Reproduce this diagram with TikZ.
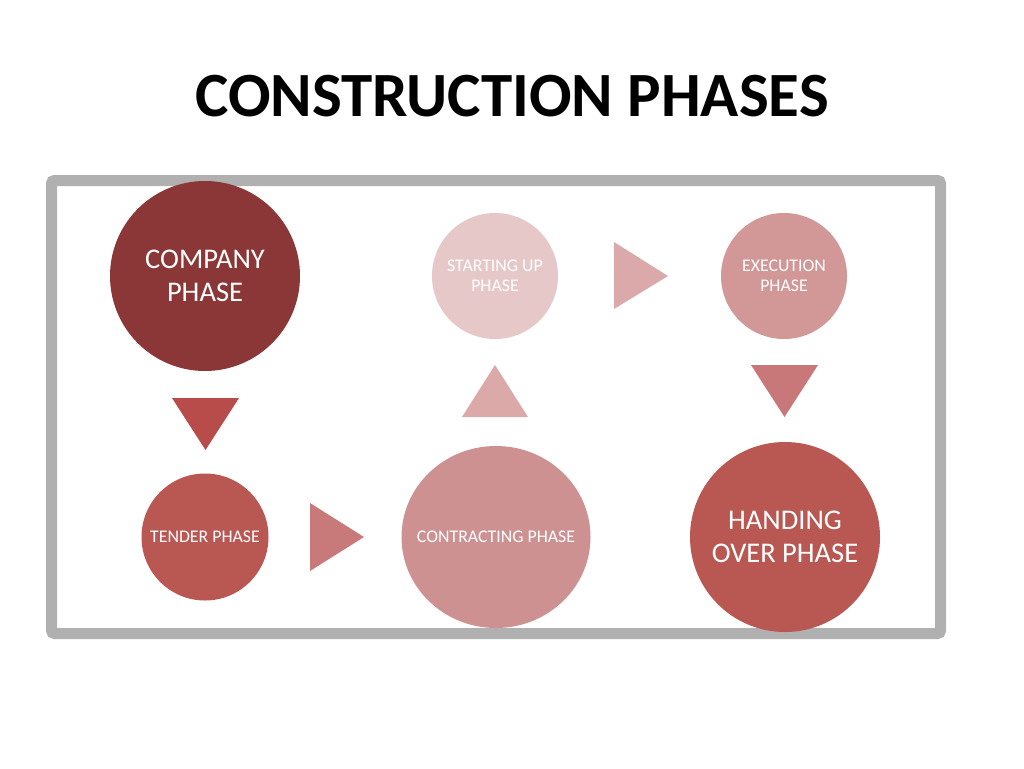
\documentclass[tikz,border=0pt]{standalone}
\usepackage{fontspec}
\setmainfont{Carlito}
\usetikzlibrary{shapes.geometric}
\definecolor{cCompany}{HTML}{8B3737}
\definecolor{cStart}{HTML}{E6C8C9}
\definecolor{cExec}{HTML}{D29797}
\definecolor{cTender}{HTML}{B95753}
\definecolor{cContract}{HTML}{CD9192}
\definecolor{cHand}{HTML}{B95753}
\definecolor{tOne}{HTML}{B74C4A}
\definecolor{tTwo}{HTML}{C87A7A}
\definecolor{tThree}{HTML}{DCA9A9}
\definecolor{tFour}{HTML}{DBA9AA}
\definecolor{tFive}{HTML}{C87878}
\definecolor{frameGray}{HTML}{B0B0B0}
\tikzset{
  phase/.style={circle, inner sep=0pt, text=white, align=center},
  bigtext/.style={font=\fontsize{28.5}{33}\selectfont},
  smalltext/.style={font=\fontsize{17.8}{20}\selectfont}
}
\begin{document}
\begin{tikzpicture}[x=1pt,y=-1pt]
\useasboundingbox (0,0) rectangle (1024,768);
\fill[white] (0,0) rectangle (1024,768);
\node[font=\fontsize{63}{70}\selectfont\bfseries] (title) at (512,96) {CONSTRUCTION PHASES};
\draw[frameGray, line width=11pt, rounded corners=3pt] (51.5,180.5) rectangle (940.5,633.5);
\node[phase, bigtext, fill=cCompany, minimum size=190pt] (company) at (205,276) {COMPANY\\PHASE};
\node[phase, smalltext, fill=cStart, minimum size=126pt] (start) at (495,276) {STARTING UP\\PHASE};
\node[phase, smalltext, fill=cExec, minimum size=126pt] (exec) at (784,276) {EXECUTION\\PHASE};
\node[phase, smalltext, fill=cTender, minimum size=127pt] (tender) at (205,537) {TENDER PHASE};
\node[ellipse, inner sep=0pt, fill=cContract, minimum width=189pt, minimum height=182pt] (contract) at (496,537) {};
\node[text=white, smalltext, inner sep=0pt] (contractlabel) at (contract.center) {CONTRACTING PHASE};
\node[phase, bigtext, fill=cHand, minimum size=190pt] (hand) at (785,537) {HANDING\\OVER PHASE};
\fill[tOne] (172,398) -- (239,398) -- (205.5,450) -- cycle;
\fill[tTwo] (310,503) -- (310,571) -- (364,537) -- cycle;
\fill[tThree] (462,417) -- (528,417) -- (495,365) -- cycle;
\fill[tFour] (614,242) -- (614,309) -- (668,276) -- cycle;
\fill[tFive] (751,365) -- (818,365) -- (784.5,417) -- cycle;
\end{tikzpicture}
\end{document}
